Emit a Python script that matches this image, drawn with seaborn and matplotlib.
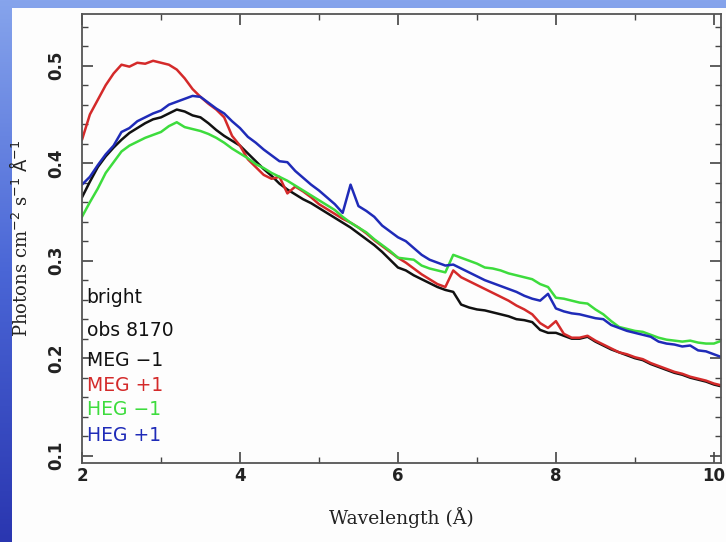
import numpy as np
import pandas as pd
import matplotlib
matplotlib.use("Agg")
import matplotlib.pyplot as plt
import seaborn as sns
from matplotlib.patches import Rectangle
from matplotlib.ticker import MultipleLocator, FixedLocator
from matplotlib.colors import LinearSegmentedColormap

wavelength = [2.0, 2.1, 2.2, 2.3, 2.4, 2.5, 2.6, 2.7, 2.8, 2.9,
              3.0, 3.1, 3.2, 3.3, 3.4, 3.5, 3.6, 3.7, 3.8, 3.9,
              4.0, 4.1, 4.2, 4.3, 4.4, 4.5, 4.6, 4.7, 4.8, 4.9,
              5.0, 5.1, 5.2, 5.3, 5.4, 5.5, 5.6, 5.7, 5.8, 5.9,
              6.0, 6.1, 6.2, 6.3, 6.4, 6.5, 6.6, 6.7, 6.8, 6.9,
              7.0, 7.1, 7.2, 7.3, 7.4, 7.5, 7.6, 7.7, 7.8, 7.9,
              8.0, 8.1, 8.2, 8.3, 8.4, 8.5, 8.6, 8.7, 8.8, 8.9,
              9.0, 9.1, 9.2, 9.3, 9.4, 9.5, 9.6, 9.7, 9.8, 9.9,
              10.0, 10.1]

meg_m1 = [0.365, 0.381, 0.396, 0.407, 0.416, 0.424, 0.431, 0.436, 0.441, 0.445,
          0.447, 0.451, 0.455, 0.453, 0.449, 0.447, 0.441, 0.434, 0.428, 0.423,
          0.418, 0.410, 0.402, 0.394, 0.387, 0.379, 0.373, 0.368, 0.363, 0.359,
          0.354, 0.349, 0.344, 0.339, 0.334, 0.328, 0.322, 0.316, 0.309, 0.301,
          0.293, 0.290, 0.285, 0.281, 0.277, 0.273, 0.270, 0.268, 0.255, 0.252,
          0.250, 0.249, 0.247, 0.245, 0.243, 0.240, 0.239, 0.237, 0.229, 0.226,
          0.226, 0.223, 0.220, 0.220, 0.222, 0.217, 0.213, 0.209, 0.206, 0.203,
          0.200, 0.198, 0.194, 0.191, 0.188, 0.185, 0.183, 0.180, 0.178, 0.176,
          0.173, 0.171]

meg_p1 = [0.424, 0.450, 0.465, 0.480, 0.492, 0.501, 0.499, 0.503, 0.502, 0.505,
          0.503, 0.501, 0.496, 0.487, 0.476, 0.468, 0.461, 0.455, 0.447, 0.428,
          0.418, 0.404, 0.396, 0.388, 0.384, 0.386, 0.369, 0.376, 0.371, 0.365,
          0.358, 0.353, 0.348, 0.343, 0.339, 0.334, 0.328, 0.321, 0.315, 0.309,
          0.303, 0.298, 0.292, 0.286, 0.281, 0.276, 0.273, 0.290, 0.283, 0.279,
          0.275, 0.271, 0.267, 0.263, 0.259, 0.254, 0.250, 0.245, 0.236, 0.231,
          0.238, 0.225, 0.221, 0.221, 0.223, 0.218, 0.214, 0.210, 0.206, 0.204,
          0.201, 0.199, 0.195, 0.192, 0.189, 0.186, 0.184, 0.181, 0.179, 0.177,
          0.174, 0.172]

heg_m1 = [0.345, 0.360, 0.374, 0.390, 0.401, 0.412, 0.418, 0.422, 0.426, 0.429,
          0.432, 0.438, 0.442, 0.437, 0.435, 0.433, 0.430, 0.426, 0.421, 0.415,
          0.410, 0.405, 0.399, 0.395, 0.390, 0.386, 0.382, 0.377, 0.372, 0.367,
          0.362, 0.357, 0.352, 0.345, 0.339, 0.334, 0.329, 0.322, 0.316, 0.310,
          0.303, 0.302, 0.301, 0.295, 0.292, 0.290, 0.288, 0.306, 0.303, 0.300,
          0.297, 0.293, 0.292, 0.290, 0.287, 0.285, 0.283, 0.281, 0.276, 0.273,
          0.262, 0.261, 0.259, 0.257, 0.256, 0.250, 0.245, 0.238, 0.232, 0.230,
          0.228, 0.227, 0.224, 0.221, 0.219, 0.218, 0.217, 0.218, 0.216, 0.215,
          0.215, 0.218]

heg_p1 = [0.378, 0.386, 0.398, 0.409, 0.418, 0.432, 0.436, 0.443, 0.447, 0.451,
          0.454, 0.460, 0.463, 0.466, 0.469, 0.468, 0.462, 0.456, 0.451, 0.443,
          0.436, 0.427, 0.421, 0.414, 0.408, 0.402, 0.401, 0.392, 0.385, 0.378,
          0.372, 0.365, 0.358, 0.349, 0.378, 0.356, 0.351, 0.345, 0.336, 0.330,
          0.324, 0.320, 0.313, 0.306, 0.301, 0.298, 0.295, 0.296, 0.292, 0.288,
          0.284, 0.280, 0.277, 0.274, 0.271, 0.268, 0.264, 0.261, 0.259, 0.266,
          0.251, 0.248, 0.246, 0.245, 0.243, 0.241, 0.240, 0.234, 0.231, 0.228,
          0.226, 0.224, 0.222, 0.217, 0.215, 0.214, 0.212, 0.213, 0.208, 0.207,
          0.204, 0.201]

series_names = ["MEG \u22121", "MEG +1", "HEG \u22121", "HEG +1"]
series_colors = ["#111111", "#d42a2a", "#3ddc3d", "#1f2bb8"]
info_lines = ["bright", "obs 8170"]
x_ticks = [2, 4, 6, 8, 10]
y_ticks = [0.1, 0.2, 0.3, 0.4, 0.5]

frames = []
for name, vals in zip(series_names, [meg_m1, meg_p1, heg_m1, heg_p1]):
    frames.append(pd.DataFrame({"wavelength": wavelength, "flux": vals, "series": name}))
df = pd.concat(frames, ignore_index=True)

sns.set_theme(style="ticks")
plt.rcParams['font.family'] = ['DejaVu Sans']

fig = plt.figure(figsize=(7.26, 5.42), dpi=100)
# blue slide background with gradient
bg = fig.add_axes([0, 0, 1, 1], zorder=-10)
grad = np.linspace(0, 1, 256).reshape(-1, 1)
cmap = LinearSegmentedColormap.from_list("slide", ["#86a4ec", "#4a66d6", "#2a36b0"])
bg.imshow(grad, aspect="auto", cmap=cmap, extent=[0, 1, 0, 1], origin="upper")
bg.set_axis_off()
fig.patches.append(Rectangle((12 / 726, 0), 1, 1 - 8 / 542, transform=fig.transFigure,
                             facecolor="#fdfdfd", edgecolor="none", zorder=-5))

ax = fig.add_axes([82 / 726, 1 - 463 / 542, (721 - 82) / 726, (463 - 14) / 542])
ax.set_facecolor("#fdfdfd")
sns.lineplot(data=df, x="wavelength", y="flux", hue="series", hue_order=series_names,
             palette=series_colors, estimator=None, sort=False, legend=False,
             linewidth=1.8, ax=ax)

ax.set_xlim(2, 10.09)
ax.set_ylim(0.0925, 0.553)
ax.xaxis.set_major_locator(FixedLocator(x_ticks))
ax.xaxis.set_minor_locator(MultipleLocator(1))
ax.yaxis.set_major_locator(FixedLocator(y_ticks))
ax.yaxis.set_minor_locator(MultipleLocator(0.02))
ax.set_xticklabels([str(t) for t in x_ticks], fontweight="bold")
ax.set_yticklabels([f"{t:.1f}" for t in y_ticks], rotation=90, va="center",
                   fontweight="bold")
ax.tick_params(which="both", direction="in", top=True, right=True, color="#444444",
               labelsize=12, labelcolor="#222222")
ax.tick_params(which="major", length=8, width=1.2)
ax.tick_params(axis="x", which="major", pad=3)
ax.tick_params(axis="y", which="major", pad=12)
ax.tick_params(which="minor", length=4, width=1.0)
for s in ax.spines.values():
    s.set_color("#555555")
    s.set_linewidth(1.3)

ax.set_xlabel("Wavelength (\u00c5)", family="DejaVu Serif", fontsize=13.5,
              color="#222222", labelpad=16)
ax.set_ylabel(r"Photons cm$^{-2}$ s$^{-1}$ $\mathrm{\AA}^{-1}$", family="DejaVu Serif",
              fontsize=13, color="#222222", labelpad=12)

text_y = [0.2626, 0.2287, 0.198, 0.172, 0.147, 0.121]
labels = info_lines + series_names
colors = ["#111111", "#111111"] + series_colors
for lab, yy, col in zip(labels, text_y, colors):
    ax.text(2.06, yy, lab, color=col, fontsize=13.5, va="center", ha="left")

fig.savefig("out.png", dpi=100)
